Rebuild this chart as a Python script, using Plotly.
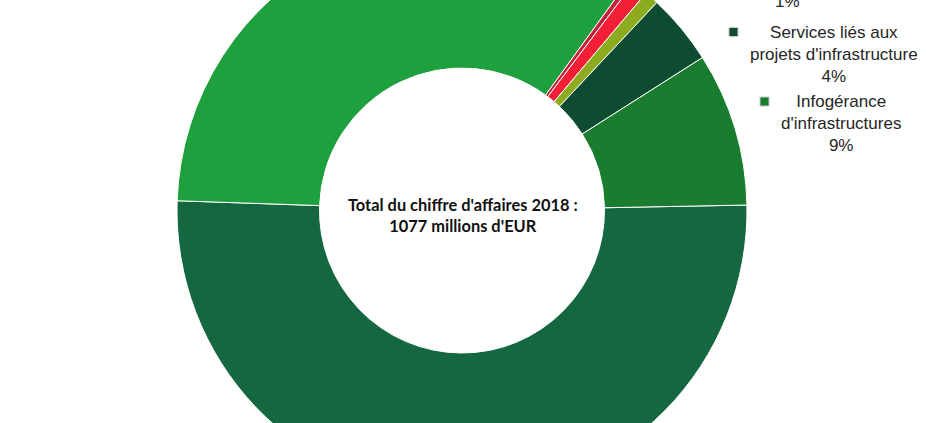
import plotly.graph_objects as go

# Revenue shares (%) in clockwise order starting near 3 o'clock
categories = [
    "Segment principal",
    "Segment secondaire",
    "Autre activité A",
    "Autre activité B",
    "Autre activité C",
    "Services liés aux projets d'infrastructure",
    "Infogérance d'infrastructures",
]
shares = [50.8, 34.4, 0.3, 0.9, 0.8, 4.0, 8.7]
colors = ["#146740", "#1fa03f", "#c5203a", "#f21f37", "#8dab1f", "#0e4c31", "#1a7c2f"]

legend_labels = ["1%", "Services liés aux<br>projets d'infrastructure<br>4%",
                 "Infogérance<br>d'infrastructures<br>9%"]
legend_colors = [None, "#0e4c31", "#1a7c2f"]

center_text = "<b>Total du chiffre d'affaires 2018 :<br>1077 millions d'EUR</b>"

W, H, T = 926, 580, 80  # figure size and vertical shift of the page
cx, cy, R = 462, 210.5, 285


def py(page_y):
    return 1 - (page_y + T) / H


fig = go.Figure()
fig.add_trace(go.Pie(
    labels=categories,
    values=shares,
    sort=False,
    direction="clockwise",
    rotation=88.9,
    hole=0.5,
    marker=dict(colors=colors, line=dict(color="white", width=1)),
    textinfo="none",
    hoverinfo="label+percent",
    showlegend=False,
    domain=dict(x=[(cx - R) / W, (cx + R) / W], y=[py(cy + R), py(cy - R)]),
))

annotations = [
    dict(text=center_text, x=463 / W, y=py(215), xref="paper", yref="paper",
         xanchor="center", yanchor="middle", showarrow=False,
         font=dict(family="Lato", size=16.4, color="#111111")),
    dict(text=legend_labels[0], x=787 / W, y=py(1.5), xref="paper", yref="paper",
         xanchor="center", yanchor="middle", showarrow=False,
         font=dict(family="Liberation Sans", size=17, color="#262626")),
    dict(text=legend_labels[1], x=834 / W, y=py(55), xref="paper", yref="paper",
         xanchor="center", yanchor="middle", showarrow=False,
         font=dict(family="Liberation Sans", size=17, color="#262626")),
    dict(text=legend_labels[2], x=841 / W, y=py(123), xref="paper", yref="paper",
         xanchor="center", yanchor="middle", showarrow=False,
         font=dict(family="Liberation Sans", size=17, color="#262626")),
]

shapes = []
for (mx, my), col in zip([(733.5, 32), (764.5, 101.5)], legend_colors[1:]):
    shapes.append(dict(type="rect", xref="paper", yref="paper",
                       x0=(mx - 4.5) / W, x1=(mx + 4.5) / W, y0=py(my + 4.5), y1=py(my - 4.5),
                       fillcolor=col, line=dict(color="#c8c8c8", width=1)))

fig.update_layout(
    width=W, height=H,
    margin=dict(l=0, r=0, t=0, b=0),
    paper_bgcolor="white", plot_bgcolor="white",
    annotations=annotations, shapes=shapes,
)

post = ("document.documentElement.style.overflow='hidden';"
        "document.body.style.overflow='hidden';"
        "document.body.style.margin='0';"
        "var d=document.getElementById('{plot_id}');"
        "d.style.position='relative';d.style.top='-" + str(T) + "px';")

fig.write_html("out.html", post_script=post)
